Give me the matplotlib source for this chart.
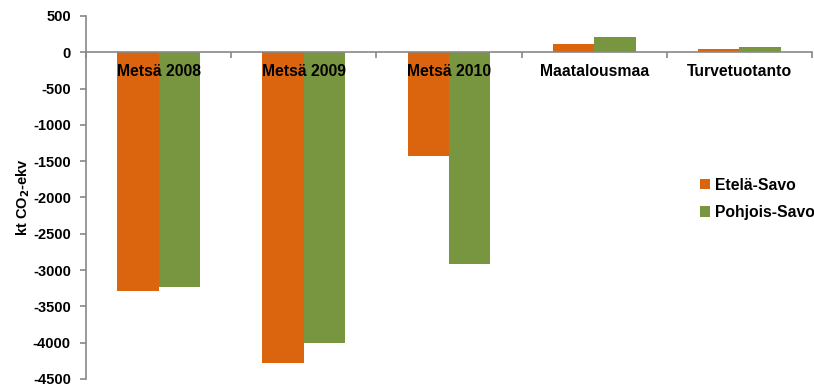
import matplotlib.pyplot as plt
import numpy as np

plt.rcParams['font.family'] = ['Liberation Sans', 'DejaVu Sans']
plt.rcParams['font.weight'] = 'bold'
plt.rcParams['axes.unicode_minus'] = False

categories = ['Metsä 2008', 'Metsä 2009', 'Metsä 2010', 'Maatalousmaa', 'Turvetuotanto']
etela_savo = [-3290, -4280, -1430, 115, 40]
pohjois_savo = [-3230, -4000, -2920, 205, 73]
series_names = ['Etelä-Savo', 'Pohjois-Savo']
colors = ['#DB640E', '#78953F']

fig = plt.figure(figsize=(8.14, 3.87), dpi=100)
ax = fig.add_axes([0.1057, 0.0207, 0.8918, 0.938])

x = np.arange(len(categories))
w = 0.285
ax.bar(x - w / 2, etela_savo, w, color=colors[0], label=series_names[0])
ax.bar(x + w / 2, pohjois_savo, w, color=colors[1], label=series_names[1])

ax.set_xlim(-0.5, len(categories) - 0.5)
ax.set_ylim(-4500, 500)
ax.set_yticks(np.arange(-4500, 501, 500))
ax.tick_params(axis='y', labelsize=10.5, color='#888888', length=4, width=1.2, pad=7)

# x axis drawn along zero, ticks at category boundaries
ax.spines['bottom'].set_position(('data', 0))
ax.set_xticks([])
ax.set_xticks(np.arange(-0.5, len(categories)), minor=True)
ax.tick_params(axis='x', which='minor', direction='out', length=4, color='#888888', width=1.2)
for s in ['top', 'right']:
    ax.spines[s].set_visible(False)
for s in ['left', 'bottom']:
    ax.spines[s].set_color('#888888')
    ax.spines[s].set_linewidth(1.2)

for i, name in enumerate(categories):
    ax.annotate(name, (x[i], 0), xytext=(0, -14), textcoords='offset points',
                ha='center', va='center', fontsize=11.3, fontweight='bold', zorder=5)

ax.set_ylabel('kt CO$_\\mathbf{2}$-ekv', fontsize=10.5, fontweight='bold')
ax.yaxis.set_label_coords(-0.074, 0.5)

ax.legend(loc='upper left', bbox_to_anchor=(0.846, 0.555), frameon=False,
          borderpad=0, borderaxespad=0,
          fontsize=11.3, handlelength=0.65, handleheight=0.65, handletextpad=0.3,
          labelspacing=0.8)

fig.savefig('out.png', dpi=100)
